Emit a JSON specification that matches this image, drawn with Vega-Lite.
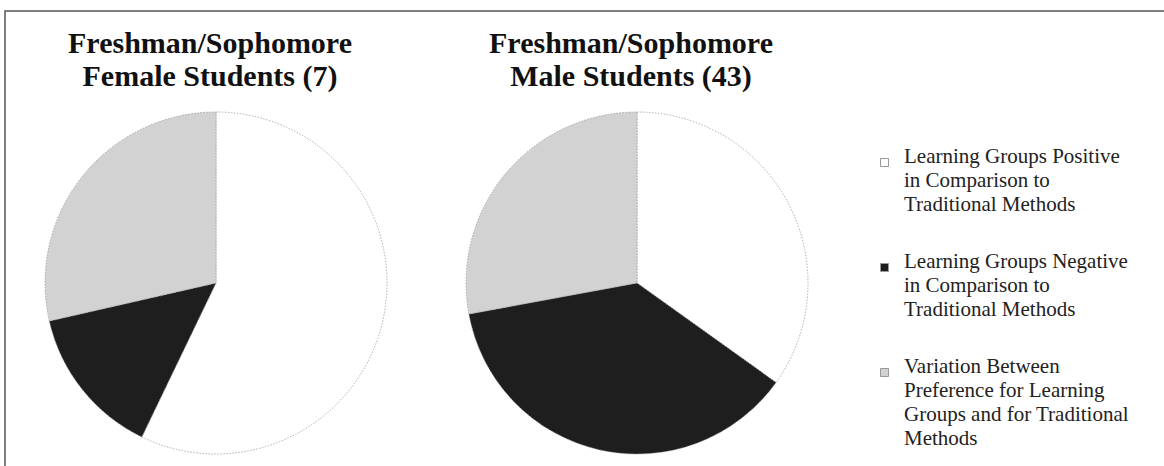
{
  "$schema": "https://vega.github.io/schema/vega-lite/v6.json",
  "width": 1163,
  "height": 459,
  "autosize": "none",
  "padding": {"left": 5, "top": 11, "right": -4, "bottom": -4},
  "background": "white",
  "config": {
    "view": {"stroke": "#555555", "strokeWidth": 1.5},
    "style": {"guide-label": {"lineHeight": 24}},
    "legend": {
      "labelFont": "Liberation Serif",
      "labelFontSize": 21,
      "labelColor": "#222222",
      "labelLimit": 400,
      "symbolType": "square",
      "symbolSize": 64,
      "symbolStrokeColor": "#999999",
      "symbolStrokeWidth": 1,
      "rowPadding": 35,
      "labelOffset": 9,
      "padding": 0
    }
  },
  "datasets": {
    "slices": [
      {"gender": "Female", "category": "Learning Groups Positive in Comparison to Traditional Methods", "k": 1, "n": 4},
      {"gender": "Female", "category": "Learning Groups Negative in Comparison to Traditional Methods", "k": 2, "n": 1},
      {"gender": "Female", "category": "Variation Between Preference for Learning Groups and for Traditional Methods", "k": 3, "n": 2},
      {"gender": "Male", "category": "Learning Groups Positive in Comparison to Traditional Methods", "k": 1, "n": 15},
      {"gender": "Male", "category": "Learning Groups Negative in Comparison to Traditional Methods", "k": 2, "n": 16},
      {"gender": "Male", "category": "Variation Between Preference for Learning Groups and for Traditional Methods", "k": 3, "n": 12}
    ],
    "titles": [
      {"gender": "Female", "title": "Freshman/Sophomore\nFemale Students (7)"},
      {"gender": "Male", "title": "Freshman/Sophomore\nMale Students (43)"}
    ]
  },
  "layer": [
    {
      "data": {"name": "slices"},
      "transform": [
        {"stack": "n", "groupby": ["gender"], "sort": [{"field": "k", "order": "ascending"}], "offset": "normalize", "as": ["t0", "t1"]}
      ],
      "mark": {"type": "arc", "radius": 171, "stroke": "#9a9a9a", "strokeWidth": 0.8, "strokeDash": [1.5, 1.5]},
      "encoding": {
        "x": {"field": "gender", "type": "nominal", "scale": {"type": "point", "domain": ["Female", "Male"], "range": [211, 632], "padding": 0}, "axis": null},
        "y": {"datum": "pie", "type": "nominal", "scale": {"type": "point", "domain": ["title", "pie"], "range": [42, 272], "padding": 0}, "axis": null},
        "theta": {"field": "t0", "type": "quantitative", "scale": {"domain": [0, 1]}},
        "theta2": {"field": "t1"},
        "fill": {
          "field": "category",
          "type": "nominal",
          "scale": {
            "domain": [
              "Learning Groups Positive in Comparison to Traditional Methods",
              "Learning Groups Negative in Comparison to Traditional Methods",
              "Variation Between Preference for Learning Groups and for Traditional Methods"
            ],
            "range": ["#ffffff", "#1e1e1e", "#d2d2d2"]
          },
          "legend": {
            "title": null,
            "orient": "none",
            "legendX": 869,
            "legendY": 141,
            "labelBaseline": "alphabetic",
            "labelExpr": "datum.label == 'Learning Groups Positive in Comparison to Traditional Methods' ? ['Learning Groups Positive', 'in Comparison to', 'Traditional Methods'] : datum.label == 'Learning Groups Negative in Comparison to Traditional Methods' ? ['Learning Groups Negative', 'in Comparison to', 'Traditional Methods'] : ['Variation Between', 'Preference for Learning', 'Groups and for Traditional', 'Methods']"
          }
        }
      }
    },
    {
      "data": {"name": "titles"},
      "mark": {"type": "text", "font": "Liberation Serif", "fontSize": 30, "fontWeight": "bold", "lineBreak": "\n", "lineHeight": 33, "align": "center", "baseline": "alphabetic", "dx": -6, "color": "#111111"},
      "encoding": {
        "x": {"field": "gender", "type": "nominal"},
        "y": {"datum": "title", "type": "nominal"},
        "text": {"field": "title"}
      }
    }
  ]
}
